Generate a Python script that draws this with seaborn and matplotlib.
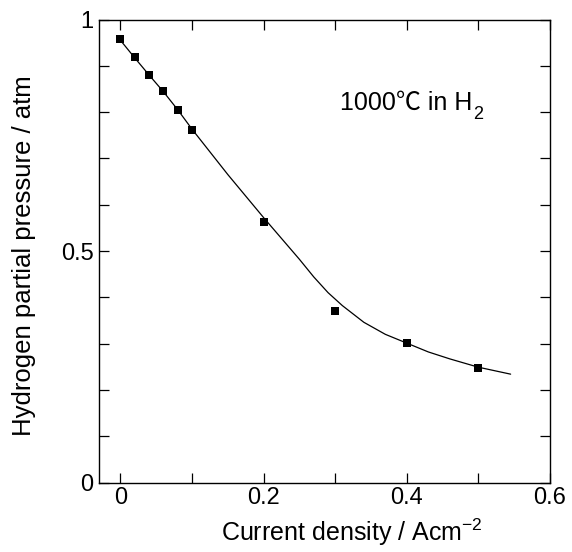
import matplotlib
matplotlib.use("Agg")
import matplotlib.pyplot as plt
import seaborn as sns
import numpy as np
import pandas as pd

# Measured points
current_density = [0.0, 0.02, 0.04, 0.06, 0.08, 0.10, 0.20, 0.30, 0.40, 0.50]
h2_pressure = [0.958, 0.918, 0.881, 0.846, 0.805, 0.761, 0.562, 0.370, 0.301, 0.247]

# Guide curve
curve_x = [0.0, 0.02, 0.04, 0.06, 0.08, 0.10, 0.15, 0.20, 0.25, 0.27, 0.29,
           0.31, 0.34, 0.37, 0.40, 0.43, 0.46, 0.50, 0.545]
curve_y = [0.955, 0.917, 0.880, 0.844, 0.805, 0.763, 0.665, 0.572, 0.482, 0.444,
           0.410, 0.382, 0.346, 0.320, 0.301, 0.282, 0.267, 0.249, 0.234]

x_ticks = [0.0, 0.1, 0.2, 0.3, 0.4, 0.5, 0.6]
x_ticklabels = ["0", "", "0.2", "", "0.4", "", "0.6"]
y_ticks = [0.0, 0.1, 0.2, 0.3, 0.4, 0.5, 0.6, 0.7, 0.8, 0.9, 1.0]
y_ticklabels = ["0", "", "", "", "", "0.5", "", "", "", "", "1"]

sns.set_style("ticks")
plt.rcParams["font.family"] = ["Liberation Sans", "Noto Sans CJK JP", "DejaVu Sans"]
plt.rcParams["mathtext.fontset"] = "custom"
plt.rcParams["mathtext.rm"] = "Liberation Sans"
plt.rcParams["mathtext.it"] = "Liberation Sans:italic"
plt.rcParams["text.color"] = "black"
plt.rcParams["axes.labelcolor"] = "black"

fig = plt.figure(figsize=(5.72, 5.52), dpi=100)
ax = fig.add_axes([99 / 572, 1 - 482.5 / 552, 451 / 572, 463 / 552])

pts = pd.DataFrame({"x": current_density, "y": h2_pressure})
crv = pd.DataFrame({"x": curve_x, "y": curve_y})

sns.lineplot(data=crv, x="x", y="y", ax=ax, color="black", linewidth=0.9,
             sort=False, estimator=None)
sns.scatterplot(data=pts, x="x", y="y", ax=ax, marker="s", color="black",
                s=30, edgecolor="black", linewidth=0, zorder=3)

ax.set_xlim(-0.03, 0.6)
ax.set_ylim(0, 1)
ax.set_xticks(x_ticks)
ax.set_xticklabels(x_ticklabels)
ax.set_yticks(y_ticks)
ax.set_yticklabels(y_ticklabels)
ax.tick_params(direction="in", length=7, width=0.9, top=True, right=True,
               labelsize=17, color="black", labelcolor="black")
ax.tick_params(axis="x", pad=3)
ax.tick_params(axis="y", pad=4)
for s in ax.spines.values():
    s.set_linewidth(1.0)
    s.set_color("black")

ax.set_xlabel("Current density / Acm$^{-2}$", fontsize=18)
ax.set_ylabel("Hydrogen partial pressure / atm", fontsize=18.5)
ax.xaxis.set_label_coords(0.56, -0.126)
ax.xaxis.label.set_va("baseline")
ax.yaxis.set_label_coords(-0.167, 0.49)
ax.yaxis.label.set_va("center")

t1 = ax.text(0.534, 0.805, "1000\u2103 in H", transform=ax.transAxes,
             fontsize=18, ha="left", va="baseline", color="black")
ax.annotate("2", xy=(1.0, 0.0), xycoords=t1, xytext=(0.3, -3),
            textcoords="offset points", fontsize=13, ha="left", va="baseline",
            color="black")

fig.savefig("out.png", dpi=100)
